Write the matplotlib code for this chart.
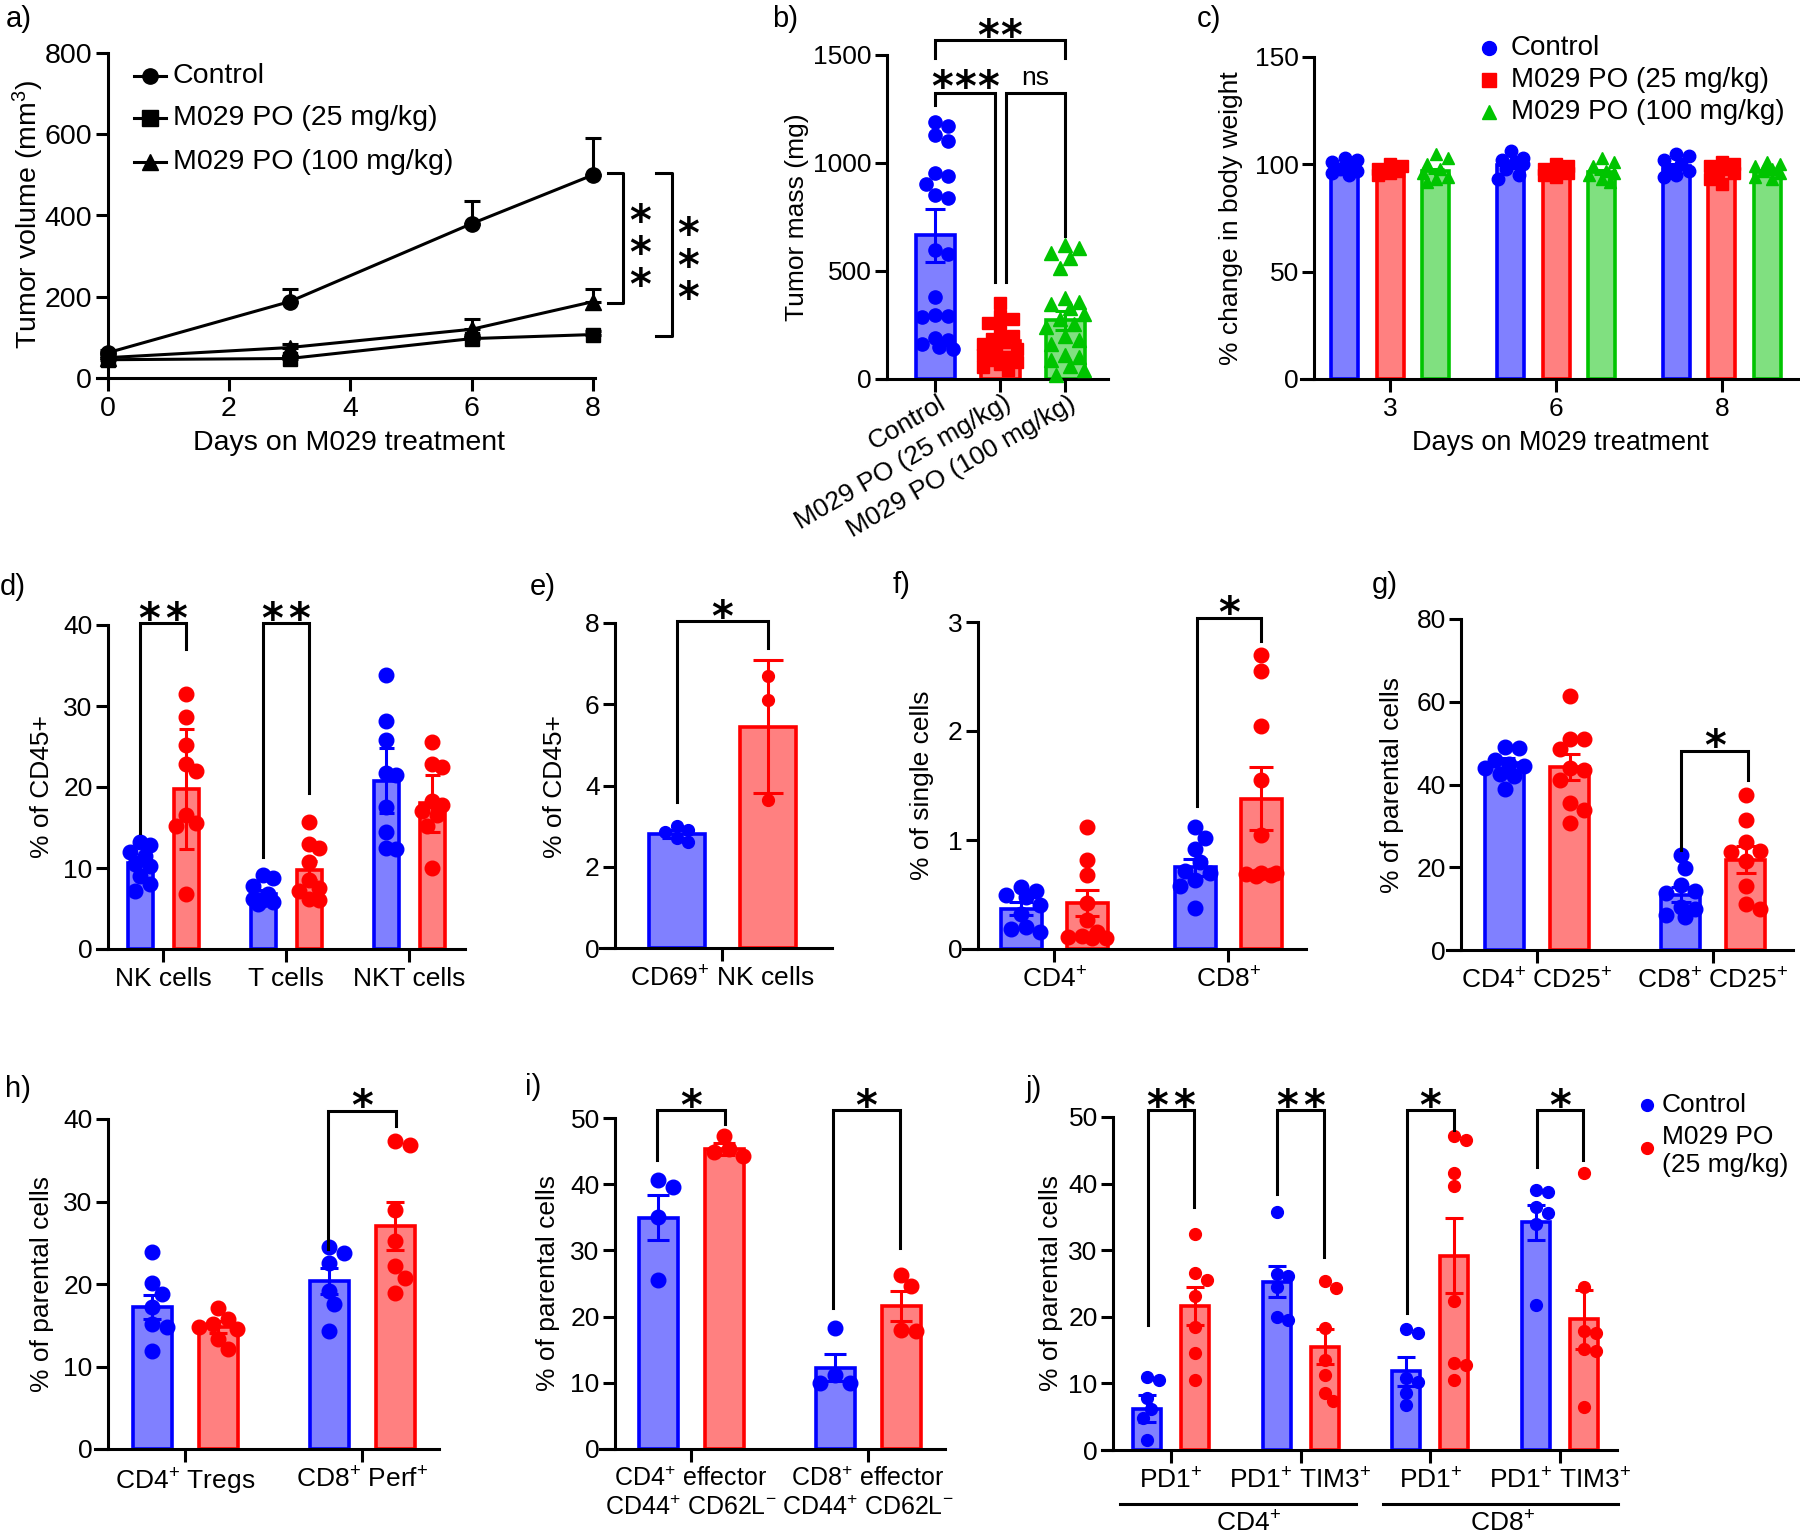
import numpy as np
import matplotlib
matplotlib.use("Agg")
import matplotlib.pyplot as plt
from matplotlib.lines import Line2D
from matplotlib.transforms import ScaledTranslation

# ---------------- data ----------------
# a) tumour volume
days = [0, 3, 6, 8]
vol_ctrl = [62, 188, 380, 500]
vol_ctrl_err = [6, 32, 56, 90]
vol_25 = [45, 48, 97, 107]
vol_25_err = [4, 6, 10, 8]
vol_100 = [50, 75, 120, 188]
vol_100_err = [4, 8, 26, 32]
group_names = ['Control', 'M029 PO (25 mg/kg)', 'M029 PO (100 mg/kg)']

# b) tumour mass
mass_mean = [665, 178, 272]
mass_sem = [124, 25, 45]
mass_ctrl = [1190, 1170, 1130, 1100, 955, 940, 905, 850, 840, 595, 580, 380,
             295, 290, 285, 190, 180, 160, 150, 140]
mass_25 = [350, 290, 280, 260, 235, 200, 185, 170, 160, 140, 125, 110, 100,
           90, 80, 70, 55, 40]
mass_100 = [620, 605, 585, 560, 515, 375, 355, 345, 330, 300, 280, 255, 240,
            200, 180, 160, 110, 100, 90, 60, 40, 20]

# c) body weight
bw_days = ['3', '6', '8']
bw_ctrl_mean = [98.5, 99.5, 99.0]
bw_25_mean = [97.5, 97.0, 97.0]
bw_100_mean = [97.0, 96.5, 96.5]
bw_err = [1.0, 1.0, 1.0]
bw_ctrl_pts = [[103, 102, 101, 99, 98, 97, 96, 95], [106, 103, 102, 101, 100, 98, 95, 93],
               [105, 104, 102, 100, 98, 97, 95, 94]]
bw_25_pts = [[100, 99, 98, 98, 97, 97, 96, 95], [100, 99, 98, 97, 97, 96, 95, 94],
             [101, 100, 99, 98, 97, 96, 93, 91]]
bw_100_pts = [[105, 103, 100, 98, 96, 94, 93, 92], [103, 101, 99, 97, 96, 95, 93, 92],
              [101, 100, 99, 98, 97, 96, 94, 93]]

# d) immune cells % of CD45+
d_groups = ['NK cells', 'T cells', 'NKT cells']
d_ctrl_mean = [10.6, 6.8, 20.8]
d_ctrl_err = [0.8, 0.5, 4.0]
d_trt_mean = [19.8, 9.7, 18.0]
d_trt_err = [7.4, 1.2, 3.5]
d_ctrl_pts = [[13.2, 12.8, 12.0, 11.5, 10.5, 10.2, 9.0, 8.0, 7.2],
              [9.1, 8.8, 7.8, 6.8, 6.2, 6.0, 5.8, 5.5],
              [33.8, 28.2, 25.8, 21.7, 21.5, 17.5, 14.5, 12.5, 12.3]]
d_trt_pts = [[31.5, 28.6, 25.2, 22.9, 22.0, 16.5, 15.6, 15.2, 6.8],
             [15.7, 13.0, 12.5, 10.8, 8.5, 7.5, 7.2, 6.2, 6.0],
             [25.5, 22.8, 22.5, 18.3, 17.8, 17.0, 16.5, 15.2, 10.0]]

# e) CD69+ NK cells
e_groups = ['CD69$^{+}$ NK cells']
e_ctrl_mean = [2.8]
e_ctrl_err = [0.1]
e_trt_mean = [5.45]
e_trt_err = [1.63]
e_ctrl_pts = [[3.0, 2.9, 2.85, 2.7, 2.6]]
e_trt_pts = [[6.7, 6.1, 3.65]]

# f) % of single cells
f_groups = ['CD4$^{+}$', 'CD8$^{+}$']
f_ctrl_mean = [0.37, 0.75]
f_ctrl_err = [0.06, 0.08]
f_trt_mean = [0.42, 1.38]
f_trt_err = [0.12, 0.29]
f_ctrl_pts = [[0.57, 0.53, 0.50, 0.48, 0.40, 0.32, 0.20, 0.18, 0.16],
              [1.12, 1.02, 0.92, 0.80, 0.72, 0.70, 0.63, 0.58, 0.38]]
f_trt_pts = [[1.12, 0.82, 0.68, 0.42, 0.27, 0.16, 0.12, 0.11, 0.10, 0.10],
             [2.70, 2.55, 2.05, 1.55, 1.05, 0.70, 0.70, 0.69, 0.68, 0.67]]

# g) CD25+
g_groups = ['CD4$^{+}$ CD25$^{+}$', 'CD8$^{+}$ CD25$^{+}$']
g_ctrl_mean = [45.2, 13.4]
g_ctrl_err = [1.1, 1.8]
g_trt_mean = [44.2, 21.8]
g_trt_err = [3.2, 3.3]
g_ctrl_pts = [[49.0, 48.8, 46.0, 45.0, 44.5, 44.0, 42.5, 42.0, 38.8],
              [23.0, 19.8, 15.8, 14.2, 13.8, 10.5, 9.8, 8.5, 8.0]]
g_trt_pts = [[61.5, 51.0, 51.0, 48.5, 44.0, 43.5, 41.0, 35.5, 33.8, 30.8],
             [37.5, 31.5, 26.0, 24.0, 23.8, 21.5, 15.5, 11.2, 9.8]]

# h) Tregs / Perf+
h_groups = ['CD4$^{+}$ Tregs', 'CD8$^{+}$ Perf$^{+}$']
h_ctrl_mean = [17.2, 20.4]
h_ctrl_err = [1.5, 1.6]
h_trt_mean = [14.8, 27.0]
h_trt_err = [0.7, 2.9]
h_ctrl_pts = [[23.9, 20.1, 18.8, 17.2, 15.2, 14.8, 11.9],
              [24.5, 23.8, 22.6, 19.2, 17.6, 14.3]]
h_trt_pts = [[17.1, 15.8, 15.2, 14.8, 14.6, 13.3, 12.1],
             [37.3, 36.8, 29.0, 25.2, 22.2, 20.7, 18.9]]

# i) effector cells
i_groups = ['CD4$^{+}$ effector\nCD44$^{+}$ CD62L$^{-}$', 'CD8$^{+}$ effector\nCD44$^{+}$ CD62L$^{-}$']
i_ctrl_mean = [34.9, 12.3]
i_ctrl_err = [3.4, 2.1]
i_trt_mean = [45.3, 21.6]
i_trt_err = [0.9, 2.2]
i_ctrl_pts = [[40.6, 39.6, 35.0, 25.6], [18.3, 11.2, 10.0, 10.0]]
i_trt_pts = [[47.3, 45.3, 44.8, 44.2], [26.3, 24.6, 18.0, 17.8]]

# j) PD1 / TIM3
j_groups = ['PD1$^{+}$', 'PD1$^{+}$ TIM3$^{+}$', 'PD1$^{+}$', 'PD1$^{+}$ TIM3$^{+}$']
j_ctrl_mean = [6.2, 25.3, 11.8, 34.2]
j_ctrl_err = [2.0, 2.4, 2.2, 2.6]
j_trt_mean = [21.6, 15.5, 29.2, 19.6]
j_trt_err = [2.9, 2.6, 5.7, 4.4]
j_ctrl_pts = [[11.0, 10.5, 7.8, 6.2, 4.8, 1.5], [35.8, 26.5, 26.2, 24.5, 20.0, 19.5],
              [18.2, 17.5, 10.8, 10.2, 8.6, 6.7], [39.0, 38.7, 36.5, 35.6, 34.0, 21.8]]
j_trt_pts = [[32.5, 26.6, 25.5, 23.1, 18.5, 14.6, 10.5], [25.4, 24.3, 18.3, 13.5, 11.2, 8.5, 7.3],
             [47.1, 46.6, 41.6, 39.6, 22.4, 13.0, 12.8, 10.5], [41.6, 24.5, 17.8, 17.5, 15.1, 14.8, 6.4]]

# ---------------- style ----------------
plt.rcParams['font.family'] = ['Liberation Sans', 'DejaVu Sans']
plt.rcParams['mathtext.fontset'] = 'custom'
plt.rcParams['mathtext.rm'] = 'Liberation Sans'
plt.rcParams['mathtext.it'] = 'Liberation Sans:italic'
plt.rcParams['mathtext.bf'] = 'Liberation Sans:bold'

W, H = 1800, 1538
PX = 0.72          # points per pixel at dpi 100
LW = 2.2
FS = 19
BLUE, BLUE_F = '#0000FF', '#8080FF'
RED, RED_F = '#FF0000', '#FF8080'
GREEN, GREEN_F = '#00C400', '#80E080'
STAR_FS = 30
STAR_MID = 0.59    # centre of the '*' glyph above the baseline, in em

fig = plt.figure(figsize=(W / 100, H / 100), dpi=100)


def add_ax(x0, x1, ytop, ybot):
    return fig.add_axes([x0 / W, 1 - ybot / H, (x1 - x0) / W, (ybot - ytop) / H])


def fig_text(x, y, s, **kw):
    fig.text(x / W, 1 - y / H, s, **kw)


def fig_line(x0, x1, y, **kw):
    fig.add_artist(Line2D([x0 / W, x1 / W], [1 - y / H, 1 - y / H],
                          transform=fig.transFigure, **kw))


def fig_mark(x, y, **kw):
    fig.add_artist(Line2D([x / W], [1 - y / H], transform=fig.transFigure,
                          ls='none', **kw))


def swarm(vals, diam, sx, sy, maxoff):
    # spread points sideways so that they do not sit on each other
    offs = np.zeros(len(vals))
    placed = []
    step = diam / 3.0
    cands = [0.0]
    for k in range(1, int(maxoff / step) + 1):
        cands += [k * step, -k * step]
    for i in np.argsort(-np.asarray(vals), kind='stable'):
        y = vals[i] * sy
        best, bestd = 0.0, -1.0
        for c in cands:
            d = min([np.hypot(c - px, y - py) for px, py in placed] or [1e9])
            if d >= diam * 0.95:
                best = c
                break
            if d > bestd:
                best, bestd = c, d
        placed.append((best, y))
        offs[i] = best / sx
    return offs


def frame(ax, ymax, yticks, fs=FS):
    ax.spines[['top', 'right']].set_visible(False)
    ax.spines[['left', 'bottom']].set_linewidth(LW)
    ax.set_ylim(0, ymax)
    ax.set_yticks(yticks)
    ax.tick_params(axis='both', length=9, width=LW, labelsize=fs)
    ax.tick_params(axis='y', pad=2)
    ax.tick_params(axis='x', pad=4)
    ax.patch.set_alpha(0)


def bar_panel(rect, yaxis_px, tick_px, ymax, yticks, labels, series, bw_px, cap_px):
    x0, x1, yt, yb = rect
    ax = add_ax(x0, x1, yt, yb)
    step = (tick_px[-1] - tick_px[0]) / (len(tick_px) - 1) if len(tick_px) > 1 else 100.0
    ax.set_xlim((x0 - tick_px[0]) / step, (x1 - tick_px[0]) / step)
    frame(ax, ymax, yticks)
    ax.spines['left'].set_position(('data', (yaxis_px - tick_px[0]) / step))
    ax.set_xticks(range(len(labels)))
    ax.set_xticklabels(labels)
    sy = (yb - yt) / ymax
    for s in series:
        xs = np.asarray(s['x'], float) + s['off'] / step
        ax.bar(xs, s['mean'], width=bw_px / step, color=s['fill'], edgecolor=s['edge'],
               linewidth=2.6, zorder=2)
        for x, p in zip(xs, s['pts']):
            dx = swarm(p, s['ms'] / PX, step, sy, bw_px * 0.5)
            ax.plot(x + dx, p, ls='none', marker=s['mk'], ms=s['ms'], color=s['edge'],
                    zorder=3, clip_on=False)
        ax.errorbar(xs, s['mean'], yerr=s['err'], fmt='none', ecolor=s['edge'],
                    elinewidth=LW, capsize=cap_px * PX, capthick=LW, zorder=4)
    return ax


def two(mc, ec, pc, mt, et, pt, off, ms):
    n = len(mc)
    return [dict(x=range(n), mean=mc, err=ec, pts=pc, edge=BLUE, fill=BLUE_F, mk='o', off=-off, ms=ms),
            dict(x=range(n), mean=mt, err=et, pts=pt, edge=RED, fill=RED_F, mk='o', off=off, ms=ms)]


def bracket(ax, xa, xb, ytop, ya, yb):
    ax.plot([xa, xa, xb, xb], [ya, ytop, ytop, yb], color='k', lw=LW, clip_on=False,
            solid_joinstyle='miter', zorder=5)


def stars(ax, x, y, n, above=15, gap=27):
    em = STAR_FS / PX
    for k in range(n):
        d = (k - (n - 1) / 2) * gap
        ax.annotate('*', xy=(x, y), xytext=(d * PX, (above - STAR_MID * em) * PX),
                    textcoords='offset points', ha='center', va='baseline',
                    fontsize=STAR_FS, fontweight='bold', family='DejaVu Sans',
                    annotation_clip=False, zorder=6)


def vstars(ax, x, y, n, gap=29):
    # stacked asterisks as one text, centred on (x, y)
    em = STAR_FS / PX
    ax.annotate('\n'.join(['*'] * n), xy=(x, y), xytext=(0, -(STAR_MID - 0.26) * em * PX),
                textcoords='offset points', ha='center', va='center',
                linespacing=gap / (1.0 * em), fontsize=STAR_FS, fontweight='bold',
                family='DejaVu Sans', annotation_clip=False, zorder=6)


# ---------------- a) ----------------
ax = add_ax(97, 595, 53, 378)
ax.set_xlim(-0.173, 8.03)
frame(ax, 800, [0, 200, 400, 600, 800], fs=20.5)
ax.spines['left'].set_position(('data', 0))
ax.set_xticks([0, 2, 4, 6, 8])
for vals, errs, mk, ms in [(vol_ctrl, vol_ctrl_err, 'o', 11), (vol_25, vol_25_err, 's', 10),
                           (vol_100, vol_100_err, '^', 11)]:
    ax.errorbar(days, vals, yerr=[np.zeros(len(errs)), errs], color='k', lw=LW, marker=mk,
                ms=ms, capsize=5.7, capthick=LW, elinewidth=LW, clip_on=False, zorder=3)
ax.plot([8.25, 8.49, 8.49, 8.25], [505, 505, 185, 185], color='k', lw=LW, clip_on=False)
ax.plot([9.04, 9.30, 9.30, 9.04], [505, 505, 103, 103], color='k', lw=LW, clip_on=False)
vstars(ax, 8.77, 336, 3)
vstars(ax, 9.56, 305, 3)
fig_text(28, 215, 'Tumor volume (mm$^{3}$)', rotation=90, ha='center', va='center', fontsize=20.5)
fig_text(349, 443, 'Days on M029 treatment', ha='center', va='center', fontsize=20.5)
for y, mk, lab in [(76, 'o', group_names[0]), (118, 's', group_names[1]), (162, '^', group_names[2])]:
    fig_line(134, 166, y, color='k', lw=LW)
    fig_mark(150, y, marker=mk, ms=11, color='k')
    fig_text(173, y, lab, ha='left', va='center', fontsize=20.5)

# ---------------- b) ----------------
series_b = [dict(x=[0], mean=[mass_mean[0]], err=[mass_sem[0]], pts=[mass_ctrl], edge=BLUE,
                 fill=BLUE_F, mk='o', off=0, ms=9.5),
            dict(x=[1], mean=[mass_mean[1]], err=[mass_sem[1]], pts=[mass_25], edge=RED,
                 fill=RED_F, mk='s', off=0, ms=9),
            dict(x=[2], mean=[mass_mean[2]], err=[mass_sem[2]], pts=[mass_100], edge=GREEN,
                 fill=GREEN_F, mk='^', off=0, ms=10)]
ax = bar_panel((878, 1108, 55, 379), 887, [935, 999, 1065], 1500, [0, 500, 1000, 1500],
               group_names, series_b, 39, 10)
ax.set_xticklabels(group_names, rotation=30, ha='right', va='center', rotation_mode='anchor')
ax.tick_params(axis='x', pad=10)
for lbl in ax.get_xticklabels():
    lbl.set_transform(lbl.get_transform() + ScaledTranslation(0.09, 0.04, fig.dpi_scale_trans))
bracket(ax, 0, 2, 1570, 1485, 1485)
stars(ax, 1, 1570, 2, above=14, gap=23)
bracket(ax, 0, 0.923, 1325, 1270, 448)
stars(ax, 0.46, 1325, 3, above=16, gap=23)
bracket(ax, 1.09, 2, 1325, 448, 663)
ax.annotate('ns', xy=(1.54, 1325), xytext=(0, 8 * PX), textcoords='offset points',
            ha='center', va='baseline', fontsize=FS, annotation_clip=False)
fig_text(797, 217, 'Tumor mass (mg)', rotation=90, ha='center', va='center', fontsize=FS)

# ---------------- c) ----------------
series_c = [dict(x=range(3), mean=bw_ctrl_mean, err=bw_err, pts=bw_ctrl_pts, edge=BLUE,
                 fill=BLUE_F, mk='o', off=-45.5, ms=9),
            dict(x=range(3), mean=bw_25_mean, err=bw_err, pts=bw_25_pts, edge=RED,
                 fill=RED_F, mk='s', off=0, ms=8.5),
            dict(x=range(3), mean=bw_100_mean, err=bw_err, pts=bw_100_pts, edge=GREEN,
                 fill=GREEN_F, mk='^', off=45.5, ms=9)]
ax = bar_panel((1301, 1799, 57, 379), 1314, [1390, 1556, 1722], 150, [0, 50, 100, 150],
               bw_days, series_c, 27, 8)
fig_text(1231, 218, '% change in body weight', rotation=90, ha='center', va='center', fontsize=FS)
fig_text(1560, 443, 'Days on M029 treatment', ha='center', va='center', fontsize=FS + 0.5)
for y, mk, col, lab in [(48, 'o', BLUE, group_names[0]), (80, 's', RED, group_names[1]),
                        (112, '^', GREEN, group_names[2])]:
    fig_mark(1489, y, marker=mk, ms=10, color=col)
    fig_text(1511, y, lab, ha='left', va='center', fontsize=20)

# ---------------- d) ----------------
ax = bar_panel((97, 465, 625, 949), 108, [163, 287, 409], 40, [0, 10, 20, 30, 40], d_groups,
               two(d_ctrl_mean, d_ctrl_err, d_ctrl_pts, d_trt_mean, d_trt_err, d_trt_pts, 23, 10.5),
               25, 7.5)
bracket(ax, -0.187, 0.187, 40.2, 14.3, 37.0)
stars(ax, 0, 40.2, 2)
bracket(ax, 0.813, 1.187, 40.2, 11.4, 19.3)
stars(ax, 1, 40.2, 2)
fig_text(42, 787, '% of CD45+', rotation=90, ha='center', va='center', fontsize=FS)

# ---------------- e) ----------------
ax = bar_panel((600, 832, 623, 948), 615, [722], 8, [0, 2, 4, 6, 8], e_groups,
               two(e_ctrl_mean, e_ctrl_err, e_ctrl_pts, e_trt_mean, e_trt_err, e_trt_pts, 45.5, 8.5),
               56, 15)
bracket(ax, -0.45, 0.46, 8.04, 3.6, 7.38)
stars(ax, 0.005, 8.04, 1)
fig_text(555, 787, '% of CD45+', rotation=90, ha='center', va='center', fontsize=FS)

# ---------------- f) ----------------
ax = bar_panel((963, 1306, 622, 949), 978, [1054, 1228], 3, [0, 1, 2, 3], f_groups,
               two(f_ctrl_mean, f_ctrl_err, f_ctrl_pts, f_trt_mean, f_trt_err, f_trt_pts, 33, 10.5),
               41, 12)
bracket(ax, 0.82, 1.19, 3.04, 1.31, 2.83)
stars(ax, 1.005, 3.04, 1)
fig_text(922, 785, '% of single cells', rotation=90, ha='center', va='center', fontsize=FS)

# ---------------- g) ----------------
ax = bar_panel((1447, 1793, 619, 950), 1461, [1537, 1713], 80, [0, 20, 40, 60, 80], g_groups,
               two(g_ctrl_mean, g_ctrl_err, g_ctrl_pts, g_trt_mean, g_trt_err, g_trt_pts, 32.5, 10.5),
               39, 10)
bracket(ax, 0.82, 1.2, 48.2, 24.2, 41.1)
stars(ax, 1.01, 48.2, 1)
fig_text(1392, 785, '% of parental cells', rotation=90, ha='center', va='center', fontsize=FS)

# ---------------- h) ----------------
ax = bar_panel((95, 439, 1119, 1449), 108, [185, 362], 40, [0, 10, 20, 30, 40], h_groups,
               two(h_ctrl_mean, h_ctrl_err, h_ctrl_pts, h_trt_mean, h_trt_err, h_trt_pts, 33, 10.5),
               39, 9)
bracket(ax, 0.81, 1.19, 41.0, 24.2, 39.2)
stars(ax, 1, 41.0, 1)
fig_text(42, 1284, '% of parental cells', rotation=90, ha='center', va='center', fontsize=FS)

# ---------------- i) ----------------
ax = bar_panel((600, 945, 1118, 1449), 615, [691, 868], 50, [0, 10, 20, 30, 40, 50], i_groups,
               two(i_ctrl_mean, i_ctrl_err, i_ctrl_pts, i_trt_mean, i_trt_err, i_trt_pts, 33, 10.5),
               39, 11)
ax.tick_params(axis='x', labelsize=18)
bracket(ax, -0.19, 0.19, 51.2, 43.7, 49.1)
stars(ax, 0, 51.2, 1)
bracket(ax, 0.8, 1.18, 51.2, 21.3, 30.3)
stars(ax, 0.99, 51.2, 1)
fig_text(548, 1283, '% of parental cells', rotation=90, ha='center', va='center', fontsize=FS)

# ---------------- j) ----------------
ax = bar_panel((1102, 1617, 1117, 1450), 1113, [1171, 1301, 1430, 1560], 50,
               [0, 10, 20, 30, 40, 50], j_groups,
               two(j_ctrl_mean, j_ctrl_err, j_ctrl_pts, j_trt_mean, j_trt_err, j_trt_pts, 24, 8.5),
               28, 9)
bracket(ax, -0.18, 0.18, 51.0, 18.75, 36.5)
stars(ax, 0, 51.0, 2)
bracket(ax, 0.82, 1.18, 51.0, 38.5, 29.0)
stars(ax, 1, 51.0, 2)
bracket(ax, 1.82, 2.18, 51.0, 20.5, 48.0)
stars(ax, 2, 51.0, 1)
bracket(ax, 2.82, 3.18, 51.0, 42.5, 43.5)
stars(ax, 3, 51.0, 1)
fig_text(1051, 1283, '% of parental cells', rotation=90, ha='center', va='center', fontsize=FS)
fig_line(1120, 1356, 1504, color='k', lw=LW)
fig_line(1383, 1618, 1504, color='k', lw=LW)
fig_text(1248, 1524, 'CD4$^{+}$', ha='center', va='center', fontsize=FS)
fig_text(1502, 1524, 'CD8$^{+}$', ha='center', va='center', fontsize=FS)
fig_mark(1647, 1105, marker='o', ms=8.5, color=BLUE)
fig_text(1662, 1105, 'Control', ha='left', va='center', fontsize=FS)
fig_mark(1647, 1148, marker='o', ms=8.5, color=RED)
fig_text(1662, 1137, 'M029 PO', ha='left', va='center', fontsize=FS)
fig_text(1662, 1165, '(25 mg/kg)', ha='left', va='center', fontsize=FS)

# ---------------- panel letters ----------------
for x, y, lab in [(6, 5, 'a)'), (772, 5, 'b)'), (1197, 5, 'c)'), (0, 573, 'd)'), (530, 573, 'e)'),
                  (893, 571, 'f)'), (1372, 571, 'g)'), (5, 1075, 'h)'), (525, 1073, 'i)'),
                  (1026, 1075, 'j)')]:
    fig_text(x, y, lab, ha='left', va='top', fontsize=21)

fig.savefig('out.png', dpi=100)
